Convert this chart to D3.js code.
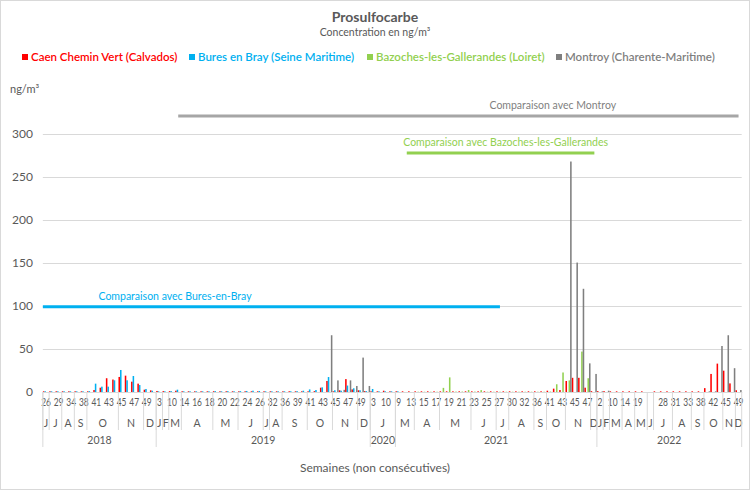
<!DOCTYPE html>
<html>
<head>
<meta charset="utf-8">
<script src="https://cdn.jsdelivr.net/npm/d3@7/dist/d3.min.js"></script>
<style>
  body { margin: 0; background: #fff; }
  svg { font-family: Lato, "Open Sans", sans-serif; }
</style>
</head>
<body>
<svg id="chart" width="750" height="490"></svg>
<script>
// semaines (libellés), une entrée par catégorie
const weeks = [
  "26","27","29","31","34","36","38","40","41","42","43","44","45","46","47","48","49","50",
  "3","6","10","12","14","15","16","17","18","19","20","21","22","23","24","25","26","28","32","34","36","38","39","40","41","42","43","44","45","46","47","48","49","50",
  "3","5","10","11",
  "9","11","13","14","15","16","17","18","19","20","21","22","23","24","25","26","27","28","30","31","32","34","36","38","41","42","43","44","45","46","47","48",
  "2","6","10","12","14","16","19","21","","27","28","30","31","32","33","36","38","40","42","43","45","47","49"
];
const months = [
  6,7,7,8,8,9,9,10,10,10,10,10,11,11,11,11,12,12,
  1,2,3,3,4,4,4,4,4,5,5,5,5,6,6,6,6,7,8,8,9,9,9,9,10,10,10,10,11,11,11,11,12,12,
  1,1,1,1,
  3,3,3,4,4,4,4,5,5,5,5,5,6,6,6,6,7,7,8,8,8,8,9,9,10,10,10,11,11,11,11,12,
  1,2,3,3,4,4,5,5,6,7,7,7,8,8,8,9,9,10,10,10,11,11,12
];
const monthLetters = ["J","F","M","A","M","J","J","A","S","O","N","D"];
const years = ["2018","2019","2020","2021","2022"];
const yearSizes = [18, 34, 4, 32, 23];

const series = ["Caen Chemin Vert (Calvados)", "Bures en Bray (Seine Maritime)", "Bazoches-les-Gallerandes (Loiret)", "Montroy (Charente-Maritime)"];
const colors = ["#ff0000", "#00b0f0", "#92d050", "#7f7f7f"];

const caen = [
  0.8,0.8,0.8,0.8,0.8,0.8,0.8,0.8,2.3,5,16,14.5,17.5,19,12,9.7,2.7,1.9,
  1.2,1,1,1.5,0.8,0.8,0.8,0.8,0.8,0.9,0.8,0.8,0.8,0.8,0.8,0.8,0.8,0.8,0.8,0.8,0.8,0.8,0.8,0.8,0.8,1,5,12.8,0.8,2,15,3,2,1,
  0.8,0.8,1.5,0.8,
  0.8,0.8,0.8,0.8,0.8,0.8,0.8,0.8,0.8,0.8,0.8,0.8,0.8,0.8,0.8,0.8,0.8,0.8,0.8,0.8,0.8,0.8,0.8,0.8,1.5,3.9,2.3,12.8,16.5,16.5,5,1,
  1,1,0.8,0.8,0.8,0.8,0.8,0.8,null,0.8,0.8,0.8,0.8,0.8,0.8,0.8,0.8,4.5,21,33,24.8,10,2
];
const bures = [
  0.8,0.8,0.8,0.8,0.8,0.8,0.8,1,9.7,6.2,6.2,13.6,25.6,13.6,18.6,8.1,3.5,1.5,
  0.8,0.8,1,2.7,0.8,0.8,0.8,0.8,0.8,1,0.8,1,0.8,1,1.2,1.5,1.2,0.8,0.8,0.8,0.8,0.8,1,1.5,3,2.3,5.4,17.4,2,1.5,7.5,4.3,2,1,
  3.5,0.8,0.8,0.8,
  0.8,null,null,null,null,null,null,null,null,null,null,null,null,null,null,null,null,null,null,null,null,null,null,null,null,null,null,null,null,null,null,null,
  null,null,null,null,null,null,null,null,null,null,null,null,null,null,null,null,null,null,null,null,null,null,null
];
const bazoches = [
  null,null,null,null,null,null,null,null,null,null,null,null,null,null,null,null,null,null,
  null,null,null,null,null,null,null,null,null,null,null,null,null,null,null,null,null,null,null,null,null,null,null,null,null,null,null,null,null,null,null,null,null,null,
  null,null,null,null,
  null,null,null,0.3,0.3,0.3,0.3,4.8,17,0.5,0.5,2.3,0.5,2.2,0.3,0.3,0.3,0.3,0.3,0.3,0.3,0.3,0.3,0.3,0.5,9,22.7,13.5,null,47,16,null,
  null,null,null,null,null,null,null,null,null,null,null,null,null,null,null,null,null,null,null,null,null,null,null
];
const montroy = [
  null,null,null,null,null,null,null,null,null,null,null,null,null,null,null,null,null,null,
  null,null,null,null,null,null,null,null,null,null,null,null,null,null,null,null,null,null,null,null,null,null,null,null,null,null,null,66,13.5,2.5,13.5,7,40,7,
  null,null,null,null,
  null,null,null,null,null,null,null,null,null,null,null,null,null,null,null,null,null,null,null,null,null,null,null,null,null,null,null,268,150.5,120,33.3,21,
  0.8,1.5,null,null,null,null,null,null,null,null,null,null,null,null,null,null,null,0.8,0.8,53.5,66,27.7,2.3
];
const values = [caen, bures, bazoches, montroy];

const yTicks = [0, 50, 100, 150, 200, 250, 300];

// bandeaux de comparaison : niveau (ng/m3), début et fin en catégories, position du libellé
const compLabels = ["Comparaison avec Montroy", "Comparaison avec Bazoches-les-Gallerandes", "Comparaison avec Bures-en-Bray"];
const compColors = ["#a6a6a6", "#92d050", "#00b0f0"];
const compLevel = [321, 278, 99];
const compFrom = [21.5, 57.8, 0];
const compTo = [110.5, 87.6, 72.6];
const compLabelAt = [81, 73.5, 21];

const svg = d3.select("#chart");
const W = 750, H = 490;
const left = 42.85, right = 741.7;

svg.append("rect").attr("x", 0.5).attr("y", 0.5).attr("width", W - 1).attr("height", H - 1)
  .attr("fill", "#fff").attr("stroke", "#d9d9d9");

const idx = d3.range(weeks.length);
const x = d3.scaleBand().domain(idx).range([left, right]).padding(0);
const xs = d3.scaleBand().domain(d3.range(4)).range([0, x.bandwidth()]).paddingOuter(0.04);
const y = d3.scaleLinear().domain([0, 300]).range([392, 134]);

// titre
svg.append("text").attr("x", 375).attr("y", 22).attr("text-anchor", "middle")
  .attr("font-size", 14).attr("font-weight", "bold").attr("fill", "#595959").text("Prosulfocarbe");
svg.append("text").attr("x", 375).attr("y", 36).attr("text-anchor", "middle")
  .attr("font-size", 10.5).attr("fill", "#595959").text("Concentration en ng/m³");

// légende
const legendX = [22, 189, 367, 556];
const leg = svg.append("g").selectAll("g").data(series).join("g")
  .attr("transform", (d, i) => `translate(${legendX[i]},0)`);
leg.append("rect").attr("y", 54).attr("width", 6).attr("height", 6).attr("fill", (d, i) => colors[i]);
leg.append("text").attr("x", 9).attr("y", 61).attr("font-size", 11.5).attr("font-weight", 600)
  .attr("fill", (d, i) => colors[i]).text(d => d);

// grille + axe Y
const gy = svg.append("g").attr("transform", `translate(${left},0)`)
  .call(d3.axisLeft(y).tickValues(yTicks).tickSize(-(right - left)).tickPadding(10));
gy.select(".domain").remove();
gy.selectAll(".tick line").attr("stroke", "#d9d9d9");
gy.selectAll(".tick text").attr("font-size", 12).attr("fill", "#595959").attr("font-family", "Lato, sans-serif");

svg.append("text").attr("x", 10).attr("y", 93).attr("font-size", 11).attr("fill", "#595959").text("ng/m³");

// barres
svg.append("g").selectAll("g").data(values).join("g")
  .attr("fill", (d, i) => colors[i])
  .each(function(vals, s) {
    d3.select(this).selectAll("rect")
      .data(vals.map((v, i) => ({i, v})).filter(d => d.v != null))
      .join("rect")
      .attr("x", d => x(d.i) + xs(s))
      .attr("width", xs.bandwidth())
      .attr("y", d => y(d.v))
      .attr("height", d => y(0) - y(d.v));
  });

// axe X à trois niveaux (libellés semaines un sur deux, resserrés)
const gx = svg.append("g").attr("transform", `translate(0,${y(0)})`)
  .call(d3.axisBottom(x).tickValues(idx.filter(i => i % 2 === 0)).tickFormat(i => weeks[i]).tickSize(0).tickPadding(7));
gx.select(".domain").attr("stroke", "#d9d9d9");
gx.selectAll(".tick text").attr("font-size", 10.5).attr("fill", "#595959")
  .attr("font-family", "Lato, sans-serif").attr("transform", "scale(0.8,1)");

// groupes mois et années
const monthGroups = [];
let yearOf = [];
yearSizes.forEach((n, k) => { for (let j = 0; j < n; j++) yearOf.push(k); });
idx.forEach(i => {
  const last = monthGroups[monthGroups.length - 1];
  if (last && last.m === months[i] && last.yr === yearOf[i]) last.end = i;
  else monthGroups.push({m: months[i], yr: yearOf[i], start: i, end: i});
});
const yearGroups = [];
let pos = 0;
yearSizes.forEach((n, k) => { yearGroups.push({label: years[k], start: pos, end: pos + n - 1}); pos += n; });

const edge = i => x(i) === undefined ? right : x(i);
const lineCol = "#d9d9d9";
svg.append("g").selectAll("line").data(monthGroups).join("line")
  .attr("x1", d => edge(d.start)).attr("x2", d => edge(d.start))
  .attr("y1", y(0)).attr("y2", 430).attr("stroke", lineCol);
svg.append("g").selectAll("text").data(monthGroups).join("text")
  .attr("x", d => (edge(d.start) + edge(d.end + 1)) / 2).attr("y", 427)
  .attr("text-anchor", "middle").attr("font-size", 10.5).attr("fill", "#595959")
  .text(d => monthLetters[d.m - 1]);
svg.append("g").selectAll("line").data(yearGroups.concat([{start: weeks.length}])).join("line")
  .attr("x1", d => edge(d.start)).attr("x2", d => edge(d.start))
  .attr("y1", y(0)).attr("y2", 447).attr("stroke", lineCol);
svg.append("g").selectAll("text").data(yearGroups).join("text")
  .attr("x", d => (edge(d.start) + edge(d.end + 1)) / 2).attr("y", 444)
  .attr("text-anchor", "middle").attr("font-size", 10.5).attr("fill", "#595959")
  .text(d => d.label);

svg.append("text").attr("x", 375).attr("y", 472).attr("text-anchor", "middle")
  .attr("font-size", 12).attr("fill", "#595959").text("Semaines (non consécutives)");

// comparaisons
const step = x.step();
const cg = svg.append("g").selectAll("g").data(compLabels).join("g");
cg.append("line")
  .attr("x1", (d, i) => left + compFrom[i] * step).attr("x2", (d, i) => left + compTo[i] * step)
  .attr("y1", (d, i) => y(compLevel[i])).attr("y2", (d, i) => y(compLevel[i]))
  .attr("stroke", (d, i) => compColors[i]).attr("stroke-width", 3);
cg.append("text")
  .attr("x", (d, i) => left + compLabelAt[i] * step).attr("y", (d, i) => y(compLevel[i]) - 7)
  .attr("text-anchor", "middle").attr("font-size", 10.5)
  .attr("fill", (d, i) => i === 0 ? "#7f7f7f" : compColors[i]).text(d => d);
</script>
</body>
</html>
